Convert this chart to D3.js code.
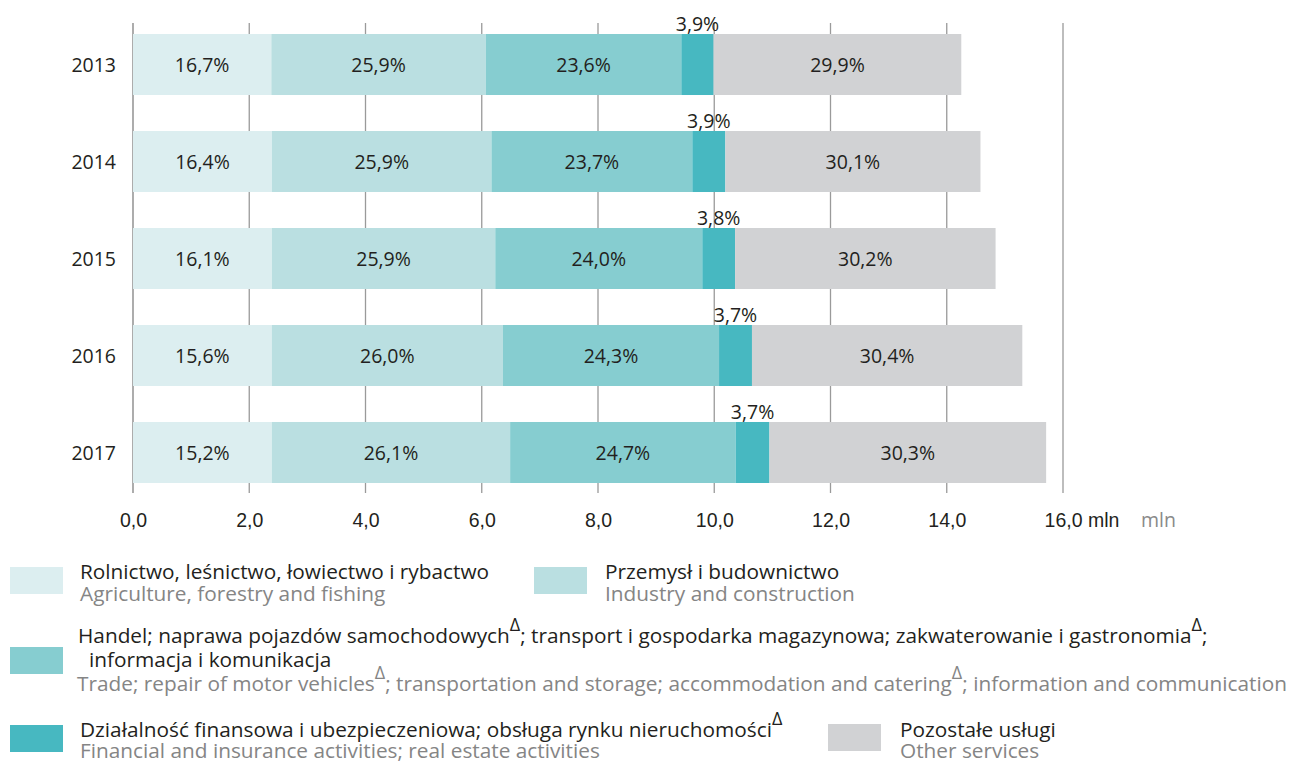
<!DOCTYPE html>
<html><head><meta charset="utf-8">
<script src="https://cdn.jsdelivr.net/npm/d3@7"></script>
<style>
body{margin:0;background:#fff;}
svg{display:block;font-family:"Open Sans",sans-serif;}
</style></head><body>
<svg id="c" width="1289" height="763"></svg>
<script>
const years = ["2013","2014","2015","2016","2017"];
const totals = [14.25, 14.58, 14.84, 15.30, 15.71]; // mln
const agriculture = [16.7, 16.4, 16.1, 15.6, 15.2];
const industry    = [25.9, 25.9, 25.9, 26.0, 26.1];
const trade       = [23.6, 23.7, 24.0, 24.3, 24.7];
const finance     = [3.9, 3.9, 3.8, 3.7, 3.7];
const other       = [29.9, 30.1, 30.2, 30.4, 30.3];
const seriesKeys = ["agriculture","industry","trade","finance","other"];
const seriesPct = {agriculture, industry, trade, finance, other};
const colors = ["#dceef0","#badfe1","#86cdd0","#47b8c1","#d1d2d4"];
const xTicks = [0,2,4,6,8,10,12,14,16];
const unit = "mln";

const svg = d3.select("#c");
const x = d3.scaleLinear().domain([0,16]).range([133,1063]);
const y = d3.scaleBand().domain(years).range([34,483]).paddingInner(0.371).paddingOuter(0);
const fmt = v => d3.format(".1f")(v).replace(".", ",");
const FS = 19.5, LFS = 20.8;

const rows = years.map((yr,i)=>{
  const r = {year: yr};
  seriesKeys.forEach(k => r[k] = totals[i]*seriesPct[k][i]/100);
  return r;
});
const stacked = d3.stack().keys(seriesKeys)(rows);

svg.append("g").selectAll("line").data(xTicks).join("line")
  .attr("x1",d=>x(d)).attr("x2",d=>x(d))
  .attr("y1",23).attr("y2",493)
  .attr("stroke",d=>d===0?"#808080":"#9a9a9a").attr("stroke-width",1.3);

const layers = svg.append("g").selectAll("g").data(stacked).join("g")
  .attr("fill",(d,i)=>colors[i]);
layers.selectAll("rect").data(d=>d.map(s=>({s,key:d.key}))).join("rect")
  .attr("x",d=>x(d.s[0])).attr("width",d=>x(d.s[1])-x(d.s[0]))
  .attr("y",d=>y(d.s.data.year)).attr("height",y.bandwidth());

layers.selectAll("text").data(d=>d.map((s,i)=>({s,key:d.key,i}))).join("text")
  .attr("x",d=>(x(d.s[0])+x(d.s[1]))/2)
  .attr("y",d=> d.key==="finance" ? y(d.s.data.year)-3 : y(d.s.data.year)+y.bandwidth()/2)
  .attr("dy",d=> d.key==="finance" ? 0 : "0.36em")
  .attr("text-anchor","middle")
  .attr("fill","#231f20").attr("font-size",FS)
  .text(d=>fmt(seriesPct[d.key][d.i])+"%");

svg.append("g").selectAll("text").data(years).join("text")
  .attr("x",116).attr("y",d=>y(d)+y.bandwidth()/2).attr("dy","0.36em")
  .attr("text-anchor","end").attr("font-size",FS).attr("fill","#231f20")
  .text(d=>d);

const xAxis = d3.axisBottom(x).tickValues(xTicks).tickSize(0).tickPadding(0)
  .tickFormat(d=>fmt(d));
const gx = svg.append("g").call(xAxis);
gx.select(".domain").remove();
gx.selectAll("text").attr("font-size",FS).attr("fill","#231f20").attr("font-family",null)
  .attr("y",527).attr("dy",null);
const lastT = gx.selectAll(".tick").filter(d=>d===16).select("text");
const w16 = lastT.node().getComputedTextLength();
lastT.attr("text-anchor","start").attr("x",-w16/2).text(fmt(16)+" "+unit);
svg.append("text").attr("x",1141).attr("y",527).attr("font-size",FS).attr("fill","#8a8a8a").text(unit);

const legend = svg.append("g").attr("font-size",LFS);
function sw(xp,yp,c){ legend.append("rect").attr("x",xp).attr("y",yp).attr("width",53).attr("height",27).attr("fill",c); }
function line(xp,yp,parts,fill){
  const t = legend.append("text").attr("x",xp).attr("y",yp).attr("fill",fill);
  parts.forEach(p=>{
    if(typeof p === "object"){
      t.append("tspan").attr("dy",-12).attr("font-size",18).text("Δ");
      if(p.after) t.append("tspan").attr("dy",12).text(p.after);
    } else t.append("tspan").text(p);
  });
}
const dark="#231f20", grey="#858585";
sw(10,567,colors[0]);
line(80,579,["Rolnictwo, leśnictwo, łowiectwo i rybactwo"],dark);
line(80,601,["Agriculture, forestry and fishing"],grey);
sw(534,567,colors[1]);
line(605,579,["Przemysł i budownictwo"],dark);
line(605,601,["Industry and construction"],grey);
sw(10,647,colors[2]);
line(78,643,["Handel; naprawa pojazdów samochodowych",{after:"; transport i gospodarka magazynowa; zakwaterowanie i gastronomia"},{after:";"}],dark);
line(89,667,["informacja i komunikacja"],dark);
line(77,691,["Trade; repair of motor vehicles",{after:"; transportation and storage; accommodation and catering"},{after:"; information and communication"}],grey);
sw(10,725,colors[3]);
line(80,737,["Działalność finansowa i ubezpieczeniowa; obsługa rynku nieruchomości",{after:""}],dark);
line(80,757.5,["Financial and insurance activities; real estate activities"],grey);
sw(828,724,colors[4]);
line(900,737,["Pozostałe usługi"],dark);
line(900,757.5,["Other services"],grey);
</script></body></html>
